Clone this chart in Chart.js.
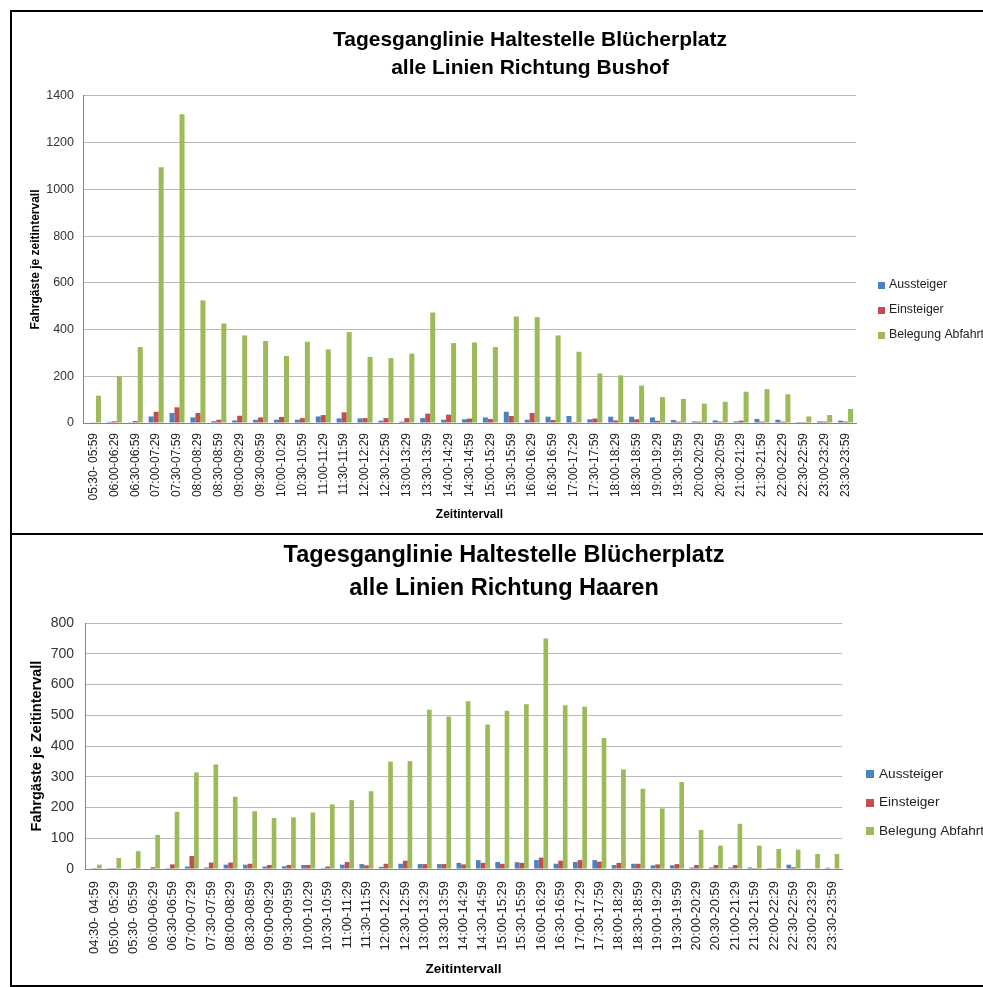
<!DOCTYPE html>
<html lang="de">
<head>
<meta charset="utf-8">
<title>Tagesganglinie Haltestelle Blücherplatz</title>
<script src="https://cdn.jsdelivr.net/npm/chart.js@4.4.1/dist/chart.umd.min.js"></script>
<style>
  html, body { margin: 0; padding: 0; background: #fff; }
  body { width: 983px; height: 987px; overflow: hidden; position: relative; }
  .panel { position: absolute; left: 10px; width: 1040px; border: 2px solid #000; background: #fff; }
  #panelBushof { top: 10px; border-bottom: none; }
  #panelHaaren { top: 533px; }
  canvas { display: block; }
</style>
</head>
<body>
<div class="panel" id="panelBushof"><canvas id="chartBushof" width="1020" height="521"></canvas></div>
<div class="panel" id="panelHaaren"><canvas id="chartHaaren" width="980" height="450"></canvas></div>

<script>
const FONT = "'Liberation Sans', Arial, sans-serif";
const colAus = '#4F81BD';
const colEin = '#C0504D';
const colBel = '#9BBB59';

// Richtung Bushof, 05:30 - 23:59
const zeitBushof = ['05:30- 05:59', '06:00-06:29', '06:30-06:59', '07:00-07:29', '07:30-07:59',
    '08:00-08:29', '08:30-08:59', '09:00-09:29', '09:30-09:59', '10:00-10:29', '10:30-10:59',
    '11:00-11:29', '11:30-11:59', '12:00-12:29', '12:30-12:59', '13:00-13:29', '13:30-13:59',
    '14:00-14:29', '14:30-14:59', '15:00-15:29', '15:30-15:59', '16:00-16:29', '16:30-16:59',
    '17:00-17:29', '17:30-17:59', '18:00-18:29', '18:30-18:59', '19:00-19:29', '19:30-19:59',
    '20:00-20:29', '20:30-20:59', '21:00-21:29', '21:30-21:59', '22:00-22:29', '22:30-22:59',
    '23:00-23:29', '23:30-23:59'];
const ausBushof = [0, 5, 3, 28, 43, 24, 8, 11, 14, 14, 14, 28, 20, 20, 10, 6, 21, 14, 16, 24, 48,
    14, 27, 30, 16, 27, 27, 24, 13, 7, 11, 7, 17, 14, 4, 7, 10];
const einBushof = [3, 7, 8, 48, 67, 43, 14, 31, 24, 26, 21, 34, 46, 21, 21, 21, 40, 36, 19, 17, 30,
    43, 13, 4, 19, 11, 16, 9, 6, 6, 6, 10, 6, 6, 4, 6, 6];
const belBushof = [117, 200, 325, 1095, 1322, 525, 426, 375, 351, 287, 348, 315, 389, 283, 278, 297,
    473, 342, 345, 325, 456, 453, 375, 305, 212, 204, 160, 111, 103, 83, 91, 134, 145, 123, 28, 34, 60];
const ticksBushof = { max: 1400, step: 200 };

// Richtung Haaren, 04:30 - 23:59
const zeitHaaren = ['04:30- 04:59', '05:00- 05:29', '05:30- 05:59', '06:00-06:29', '06:30-06:59',
    '07:00-07:29', '07:30-07:59', '08:00-08:29', '08:30-08:59', '09:00-09:29', '09:30-09:59',
    '10:00-10:29', '10:30-10:59', '11:00-11:29', '11:30-11:59', '12:00-12:29', '12:30-12:59',
    '13:00-13:29', '13:30-13:59', '14:00-14:29', '14:30-14:59', '15:00-15:29', '15:30-15:59',
    '16:00-16:29', '16:30-16:59', '17:00-17:29', '17:30-17:59', '18:00-18:29', '18:30-18:59',
    '19:00-19:29', '19:30-19:59', '20:00-20:29', '20:30-20:59', '21:00-21:29', '21:30-21:59',
    '22:00-22:29', '22:30-22:59', '23:00-23:29', '23:30-23:59'];
const ausHaaren = [0, 3, 0, 0, 3, 8, 5, 14, 14, 8, 9, 13, 3, 14, 16, 7, 17, 16, 16, 20, 29, 23, 22,
    29, 17, 23, 29, 13, 17, 12, 12, 5, 5, 5, 5, 3, 14, 2, 4];
const einHaaren = [3, 3, 3, 6, 15, 42, 21, 21, 17, 13, 13, 13, 8, 23, 12, 17, 27, 16, 16, 15, 20, 17,
    20, 37, 27, 29, 24, 20, 17, 15, 16, 13, 13, 13, 3, 3, 6, 2, 2];
const belHaaren = [14, 36, 58, 111, 186, 314, 340, 235, 188, 166, 168, 184, 210, 224, 253, 349, 351,
    518, 496, 546, 470, 515, 536, 750, 533, 528, 426, 324, 261, 197, 283, 127, 76, 147, 76, 65, 63, 49, 49];
const ticksHaaren = { max: 800, step: 100 };

// legend to the right of the plot, drawn from the dataset colours
const sideLegend = {
    id: 'sideLegend',
    afterDraw(chart, args, opts) {
        const ctx = chart.ctx;
        ctx.save();
        ctx.font = opts.fontSize + 'px ' + FONT;
        ctx.textBaseline = 'middle';
        ctx.textAlign = 'left';
        chart.data.datasets.forEach((ds, i) => {
            const y = opts.y + i * opts.spacing;
            ctx.fillStyle = ds.backgroundColor;
            ctx.fillRect(opts.x, Math.round(y - opts.box / 2), opts.box, opts.box);
            ctx.fillStyle = '#222';
            ctx.fillText(ds.label, opts.textX, y);
        });
        ctx.restore();
    }
};

function makeChart(id, cfg) {
    return new Chart(document.getElementById(id), {
        type: 'bar',
        data: {
            labels: cfg.labels,
            datasets: [
                { label: 'Aussteiger', data: cfg.aus, backgroundColor: colAus },
                { label: 'Einsteiger', data: cfg.ein, backgroundColor: colEin },
                { label: 'Belegung Abfahrt', data: cfg.bel, backgroundColor: colBel }
            ]
        },
        options: {
            responsive: false,
            animation: false,
            events: [],
            datasets: { bar: { categoryPercentage: 0.72, barPercentage: 1.0 } },
            layout: { padding: cfg.padding },
            plugins: {
                legend: { display: false },
                tooltip: { enabled: false },
                title: {
                    display: true,
                    text: cfg.title,
                    color: '#000',
                    font: { family: FONT, size: cfg.titleSize, weight: 'bold', lineHeight: cfg.titleLine },
                    padding: cfg.titlePad
                },
                sideLegend: cfg.legend
            },
            scales: {
                x: {
                    grid: { display: false },
                    border: { display: true, color: '#868686', width: 1 },
                    ticks: {
                        autoSkip: false,
                        minRotation: 90,
                        maxRotation: 90,
                        padding: cfg.xTickPad,
                        color: '#222',
                        font: { family: FONT, size: cfg.xTickSize }
                    },
                    title: {
                        display: true,
                        text: 'Zeitintervall',
                        color: '#000',
                        padding: 0,
                        font: { family: FONT, size: cfg.xTitleSize, weight: 'bold' }
                    },
                    afterFit: (s) => { s.height = cfg.xHeight; }
                },
                y: {
                    min: 0,
                    max: cfg.ticks.max,
                    grid: { color: '#b9b9b9', drawTicks: false },
                    border: { display: true, color: '#868686', width: 1 },
                    ticks: {
                        stepSize: cfg.ticks.step,
                        padding: cfg.yTickPad,
                        color: '#333',
                        font: { family: FONT, size: cfg.yTickSize },
                        callback: (v) => String(v)
                    },
                    title: {
                        display: true,
                        text: cfg.yTitle,
                        color: '#000',
                        padding: { top: cfg.yTitlePad, bottom: 0 },
                        font: { family: FONT, size: cfg.yTitleSize, weight: 'bold' }
                    },
                    afterFit: (s) => { s.width = cfg.yWidth; }
                },
                // empty strip on the right that holds the legend
                legendSpace: {
                    axis: 'y',
                    type: 'linear',
                    position: 'right',
                    grid: { display: false, drawTicks: false },
                    border: { display: false },
                    ticks: { display: false },
                    afterFit: (s) => { s.width = cfg.rightSpace; }
                }
            }
        },
        plugins: [sideLegend]
    });
}

makeChart('chartBushof', {
    labels: zeitBushof, aus: ausBushof, ein: einBushof, bel: belBushof, ticks: ticksBushof,
    title: ['Tagesganglinie Haltestelle Blücherplatz', 'alle Linien Richtung Bushof'],
    titleSize: 21, titleLine: 1.333, titlePad: { top: 14, bottom: 14 },
    padding: { left: 16, right: 0, top: 0, bottom: 11 },
    yTitle: 'Fahrgäste je zeitintervall', yTitleSize: 12, yTitlePad: 0, yTickSize: 12.5, yTickPad: 9, yWidth: 55,
    xTickSize: 12, xTickPad: 2, xTitleSize: 12, xHeight: 99, rightSpace: 176,
    legend: { x: 866, y: 273, spacing: 25, box: 7, textX: 877, fontSize: 12.3 }
});

makeChart('chartHaaren', {
    labels: zeitHaaren, aus: ausHaaren, ein: einHaaren, bel: belHaaren, ticks: ticksHaaren,
    title: ['Tagesganglinie Haltestelle Blücherplatz', 'alle Linien Richtung Haaren'],
    titleSize: 23.5, titleLine: 1.405, titlePad: { top: 4, bottom: 18 },
    padding: { left: 4, right: 0, top: 0, bottom: 8 },
    yTitle: 'Fahrgäste je Zeitintervall', yTitleSize: 14.5, yTitlePad: 12.3, yTickSize: 14, yTickPad: 11, yWidth: 69,
    xTickSize: 13, xTickPad: 4, xTitleSize: 13.5, xHeight: 108, rightSpace: 150,
    legend: { x: 854, y: 239, spacing: 28.5, box: 8, textX: 867, fontSize: 13.6 }
});
</script>
</body>
</html>
